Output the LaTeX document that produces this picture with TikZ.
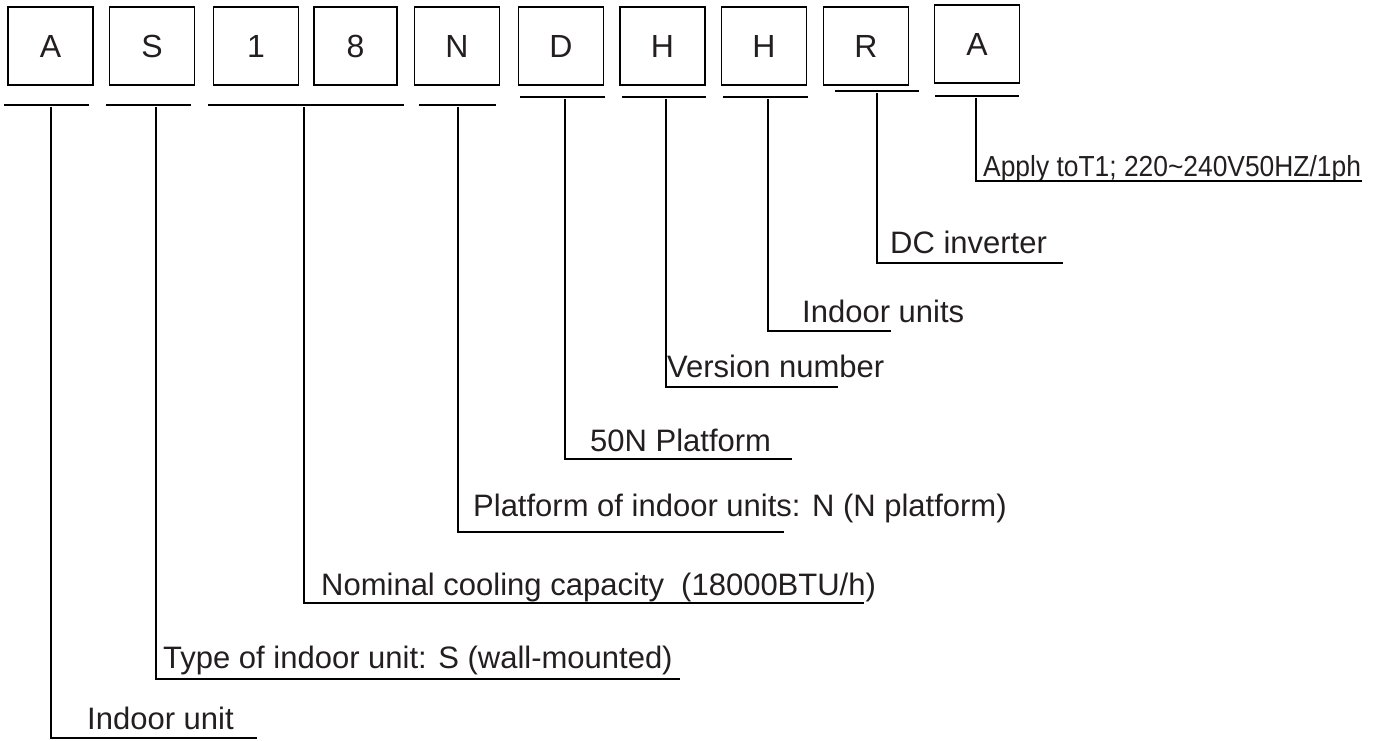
\documentclass[tikz,border=0pt]{standalone}
\usepackage{fontspec}
\setmainfont{Liberation Sans}
\definecolor{ink}{RGB}{35,31,32}
\begin{document}
\begin{tikzpicture}[x=1pt,y=-1pt,
  codebox/.style={draw, line width=1.6pt, minimum width=85pt, minimum height=78pt, inner sep=0pt, font=\fontsize{32}{36}\selectfont, text=ink},
  lbl/.style={anchor=base west, inner sep=0pt, font=\fontsize{31}{36}\selectfont, text=ink},
  ln/.style={line width=1.5pt}]
\useasboundingbox (0,0) rectangle (1382,740);
% code boxes
\node[codebox] (bA)  at (50.5,46) {A};
\node[codebox] (bS)  at (152,46) {S};
\node[codebox] (b1)  at (256,46) {1};
\node[codebox, minimum width=83pt] (b8)  at (355.5,46) {8};
\node[codebox] (bN)  at (457,46) {N};
\node[codebox] (bD)  at (561,46) {D};
\node[codebox] (bH1) at (662.5,46) {H};
\node[codebox] (bH2) at (764,46) {H};
\node[codebox] (bR)  at (866,46) {R};
\node[codebox] (bA2) at (977,44) {A};
% underlines
\draw[ln] (4,105) -- (89,105);
\draw[ln] (106,105) -- (191,105);
\draw[ln] (208,105) -- (404,105);
\draw[ln] (419,105) -- (496,105);
\draw[ln] (520,97) -- (605,97);
\draw[ln] (622,97) -- (706,97);
\draw[ln] (723,97) -- (808,97);
\draw[ln] (835,91) -- (919,91);
\draw[ln] (935,96) -- (1019,96);
% stem tops
\coordinate (sA)  at (51,107);
\coordinate (sS)  at (156,107);
\coordinate (s18) at (304,107);
\coordinate (sN)  at (458,107);
\coordinate (sD)  at (565,99);
\coordinate (sH1) at (666,99);
\coordinate (sH2) at (768,99);
\coordinate (sR)  at (877,93);
\coordinate (sA2) at (976,98);
% leader ends
\coordinate (eA)  at (257,738);
\coordinate (eS)  at (680,679);
\coordinate (e18) at (864,603);
\coordinate (eN)  at (784,532);
\coordinate (eD)  at (792,459);
\coordinate (eH1) at (838,387);
\coordinate (eH2) at (891,331);
\coordinate (eR)  at (1063,263);
\coordinate (eA2) at (1362,181);
% labels
\node[lbl] (lA)  at (87,729) {Indoor unit};
\node[lbl] (lS)  at (163,668) {Type of indoor unit: S (wall-mounted)};
\node[lbl] (l18) at (321,595) {Nominal cooling capacity\ \ (18000BTU/h)};
\node[lbl] (lN)  at (473,516) {Platform of indoor units: N (N platform)};
\node[lbl] (lD)  at (590,451) {50N Platform};
\node[lbl] (lH1) at (667,377) {Version number};
\node[lbl] (lH2) at (802,322) {Indoor units};
\node[lbl] (lR)  at (890,253) {DC inverter};
\node[lbl, font=\fontsize{29}{34}\selectfont] (lA2) at (983,176) {\scalebox{0.91}[1]{Apply toT1; 220\textasciitilde 240V50HZ/1ph}};
% leaders
\draw[ln] (sA)  |- (eA);
\draw[ln] (sS)  |- (eS);
\draw[ln] (s18) |- (e18);
\draw[ln] (sN)  |- (eN);
\draw[ln] (sD)  |- (eD);
\draw[ln] (sH1) |- (eH1);
\draw[ln] (sH2) |- (eH2);
\draw[ln] (sR)  |- (eR);
\draw[ln] (sA2) |- (eA2);
\end{tikzpicture}
\end{document}
